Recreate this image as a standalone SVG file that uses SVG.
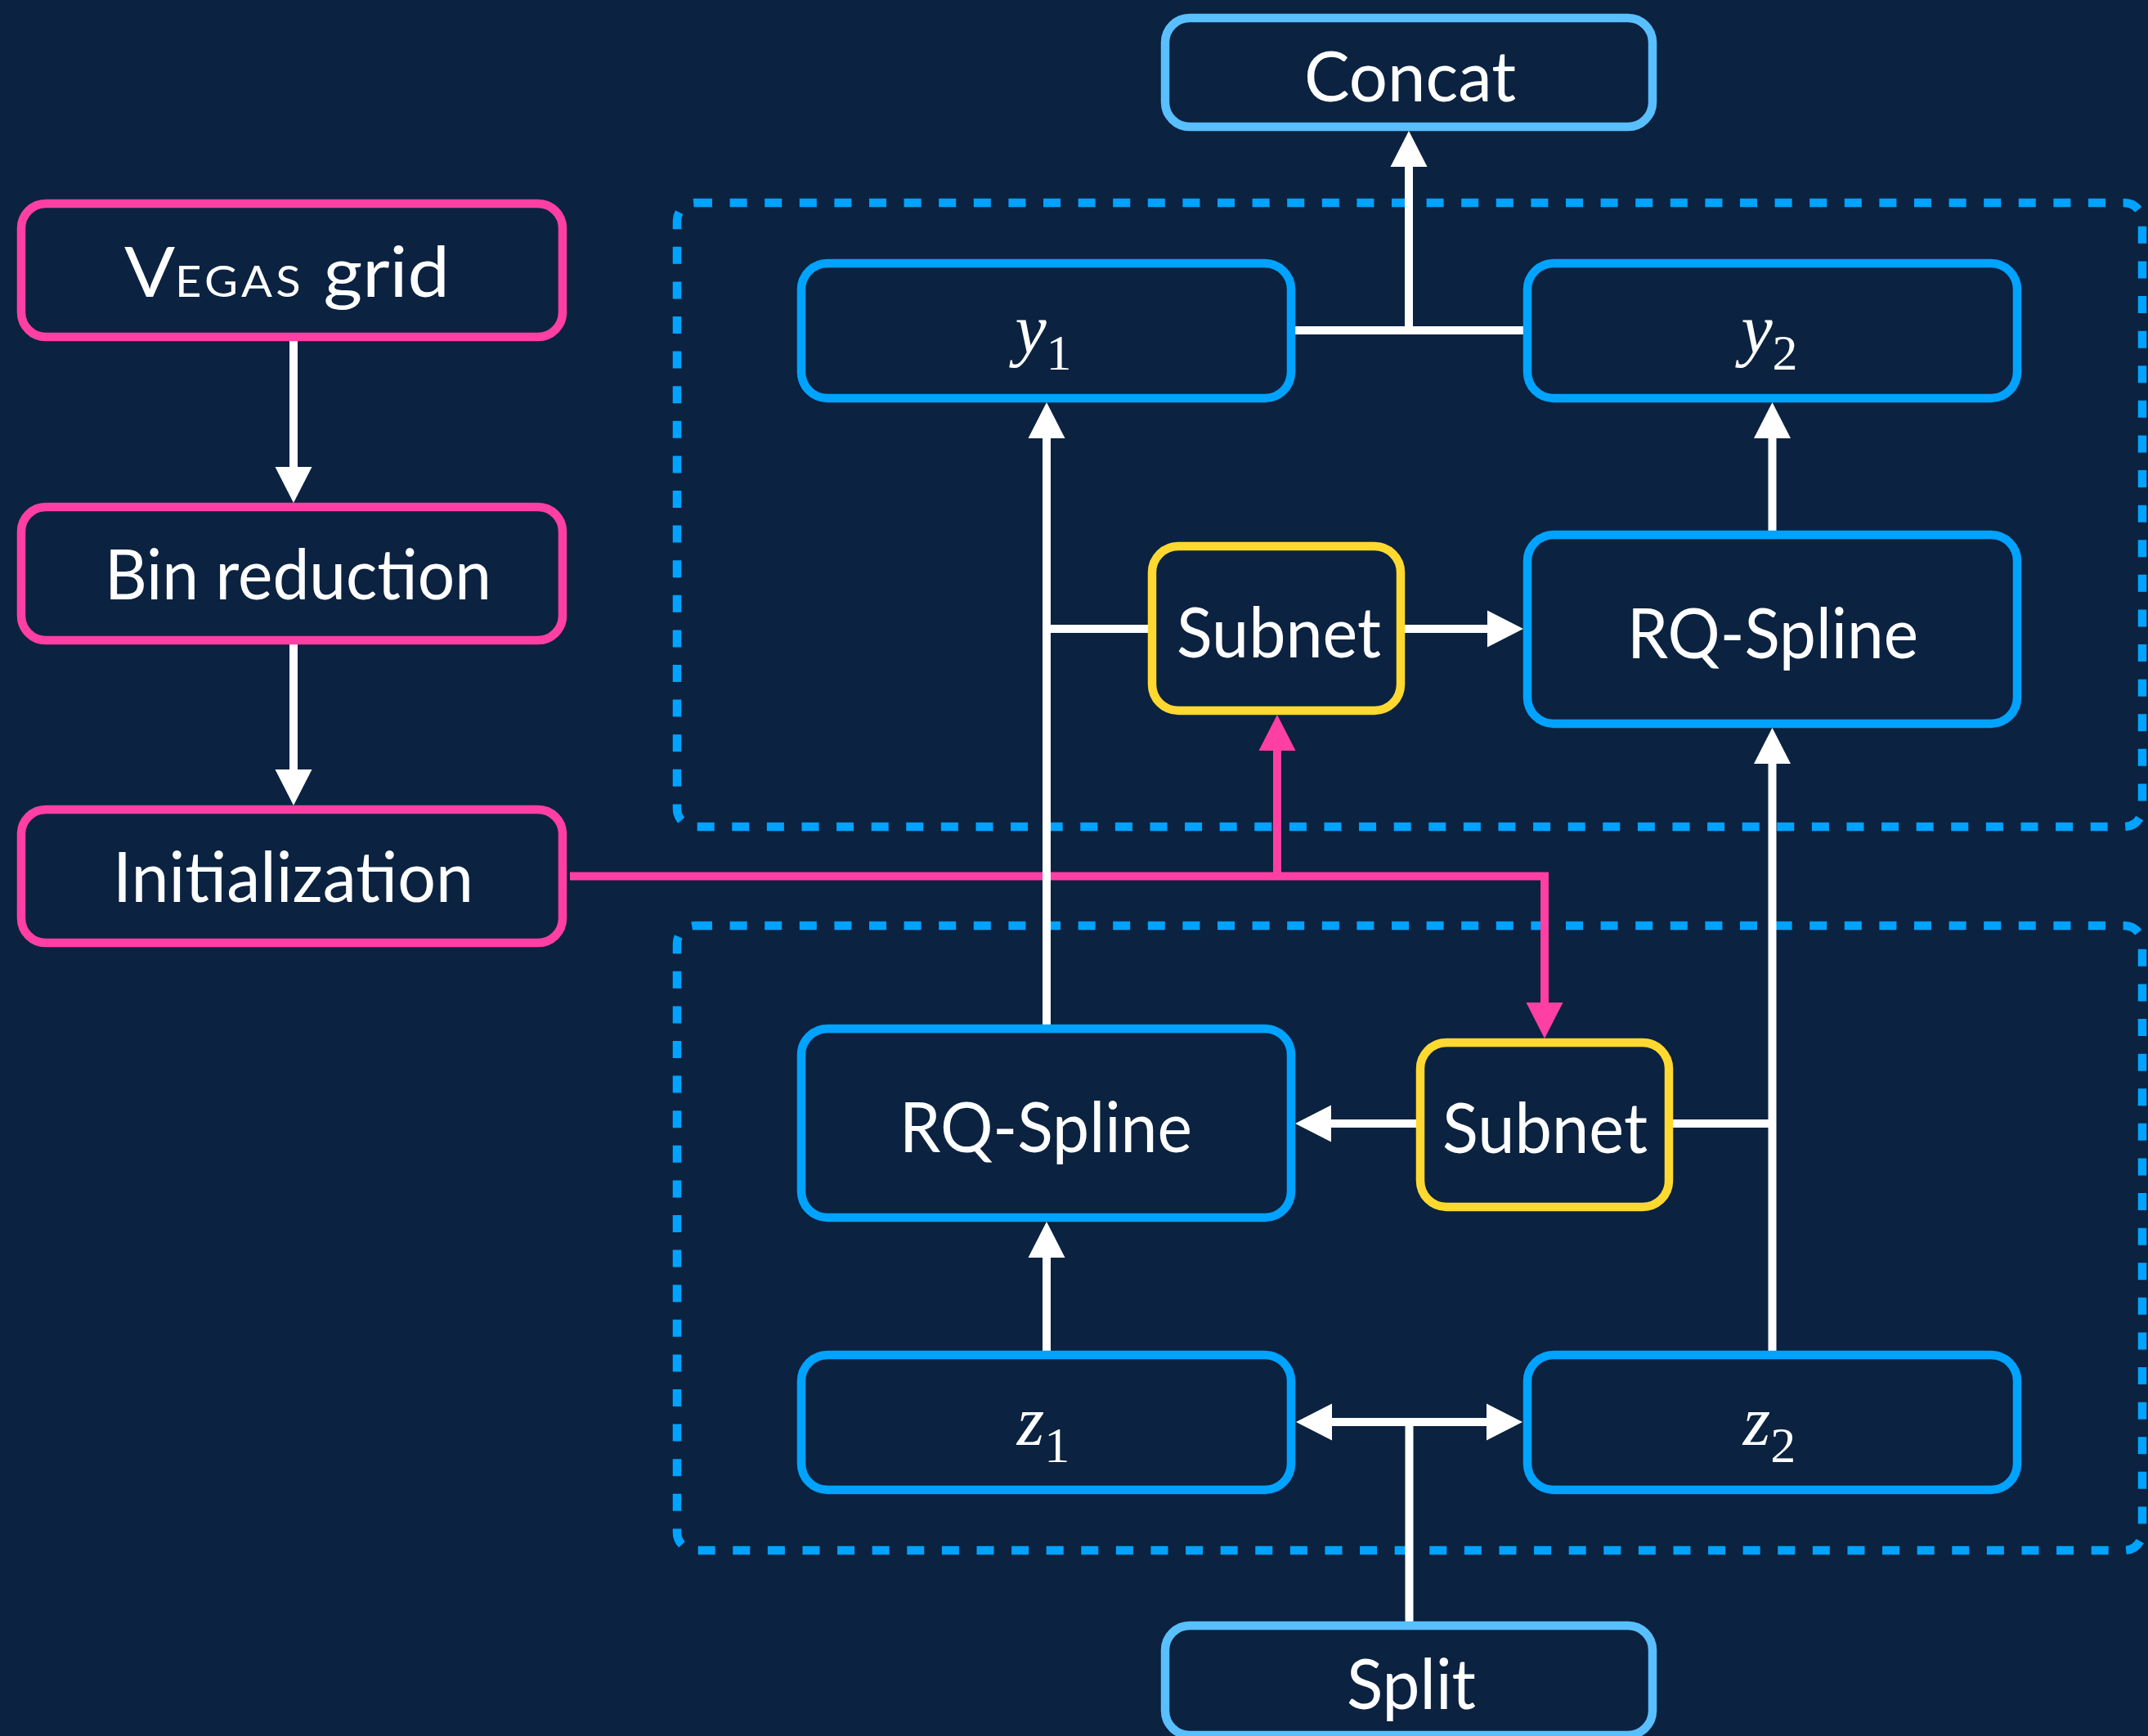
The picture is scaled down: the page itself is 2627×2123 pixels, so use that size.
<svg xmlns="http://www.w3.org/2000/svg" width="2627" height="2123" viewBox="0 0 2627 2123">
  <style>
    .bg { fill: #0b2240; }
    .node { fill: #0b2240; stroke-width: 10.5; }
    .pink { stroke: #ff3fa4; }
    .blue { stroke: #00a3ff; }
    .light { stroke: #59bfff; }
    .yellow { stroke: #ffd930; }
    .stage { fill: none; stroke: #00a3ff; stroke-width: 10.5; stroke-dasharray: 21 21.6; }
    .lbl { font-family: Lato, "Open Sans", "Liberation Sans", sans-serif; font-size: 85px; fill: #ffffff; text-anchor: middle; }
    .math { font-family: "Liberation Serif", "DejaVu Serif", serif; fill: #ffffff; text-anchor: middle; font-size: 86px; }
    .math .v { font-style: italic; }
    .math .sub { font-size: 62px; font-style: normal; }
    .wire { fill: none; stroke: #ffffff; stroke-width: 10; }
    .wire-pink { fill: none; stroke: #ff3fa4; stroke-width: 10; }
  </style>
  <defs>
    <marker id="arrow" markerUnits="userSpaceOnUse" markerWidth="44" markerHeight="45" viewBox="0 -22.5 44 45" refX="0" refY="0" orient="auto" overflow="visible">
      <path d="M0,-22.5 L44,0 L0,22.5 Z" fill="#ffffff"/>
    </marker>
    <marker id="arrow-pink" markerUnits="userSpaceOnUse" markerWidth="44" markerHeight="45" viewBox="0 -22.5 44 45" refX="0" refY="0" orient="auto" overflow="visible">
      <path d="M0,-22.5 L44,0 L0,22.5 Z" fill="#ff3fa4"/>
    </marker>
  </defs>

  <rect class="bg" x="0" y="0" width="2627" height="2123"/>

  <!-- coupling stages -->
  <g id="stages">
    <rect class="stage" x="828" y="248" width="1792" height="763" rx="22"/>
    <rect class="stage" x="828" y="1132" width="1792" height="764" rx="22"/>
  </g>

  <!-- connectors -->
  <g id="connectors">
    <path class="wire" d="M359,417 V571" marker-end="url(#arrow)"/>
    <path class="wire" d="M359,788 V941" marker-end="url(#arrow)"/>

    <path class="wire-pink" d="M697,1071.5 H1889 V1226" marker-end="url(#arrow-pink)"/>
    <path class="wire-pink" d="M1562,1071.5 V918" marker-end="url(#arrow-pink)"/>

    <path class="wire" d="M1584,404 H1863"/>
    <path class="wire" d="M1723,404 V204" marker-end="url(#arrow)"/>

    <path class="wire" d="M1280,1253 V536" marker-end="url(#arrow)"/>
    <path class="wire" d="M1280,769 H1404"/>
    <path class="wire" d="M1718,769 H1819" marker-end="url(#arrow)"/>
    <path class="wire" d="M2167.5,649 V536" marker-end="url(#arrow)"/>

    <path class="wire" d="M2167.5,1652 V934" marker-end="url(#arrow)"/>
    <path class="wire" d="M2046,1374 H2167.5"/>
    <path class="wire" d="M1732,1374 H1628" marker-end="url(#arrow)"/>
    <path class="wire" d="M1280,1652 V1538" marker-end="url(#arrow)"/>

    <path class="wire" d="M1723.5,1983 V1734"/>
    <path class="wire" d="M1723.5,1739 H1629" marker-end="url(#arrow)"/>
    <path class="wire" d="M1723.5,1739 H1818" marker-end="url(#arrow)"/>
  </g>

  <!-- preprocessing chain -->
  <g id="vegas-grid">
    <rect class="node pink" x="26" y="249" width="662" height="163" rx="30"/>
    <text class="lbl" x="351" y="363" textLength="398" lengthAdjust="spacingAndGlyphs">V<tspan font-size="52" letter-spacing="4">EGAS</tspan> grid</text>
  </g>
  <g id="bin-reduction">
    <rect class="node pink" x="26" y="620" width="662" height="163" rx="30"/>
    <text class="lbl" x="364.5" y="733" textLength="473" lengthAdjust="spacingAndGlyphs">Bin reduction</text>
  </g>
  <g id="initialization">
    <rect class="node pink" x="26" y="990" width="662" height="163" rx="30"/>
    <text class="lbl" x="358.5" y="1103" textLength="441" lengthAdjust="spacingAndGlyphs">Initialization</text>
  </g>

  <!-- flow endpoints -->
  <g id="concat">
    <rect class="node light" x="1425" y="22" width="596" height="133" rx="30"/>
    <text class="lbl" x="1724.5" y="124" textLength="259" lengthAdjust="spacingAndGlyphs">Concat</text>
  </g>
  <g id="split">
    <rect class="node light" x="1425" y="1988" width="596" height="134" rx="30"/>
    <text class="lbl" x="1726" y="2090" textLength="158" lengthAdjust="spacingAndGlyphs">Split</text>
  </g>

  <!-- upper coupling block -->
  <g id="y1">
    <rect class="node blue" x="980" y="322" width="599" height="165" rx="32"/>
    <text class="math" x="1276" y="431"><tspan class="v">y</tspan><tspan class="sub" dy="21">1</tspan></text>
  </g>
  <g id="y2">
    <rect class="node blue" x="1868" y="322" width="599" height="165" rx="32"/>
    <text class="math" x="2164" y="431"><tspan class="v">y</tspan><tspan class="sub" dy="21">2</tspan></text>
  </g>
  <g id="subnet-upper">
    <rect class="node yellow" x="1409" y="668" width="304" height="201" rx="32"/>
    <text class="lbl" x="1564" y="804" textLength="250" lengthAdjust="spacingAndGlyphs">Subnet</text>
  </g>
  <g id="spline-upper">
    <rect class="node blue" x="1868" y="654" width="599" height="231" rx="32"/>
    <text class="lbl" x="2168" y="805" textLength="356" lengthAdjust="spacingAndGlyphs">RQ-Spline</text>
  </g>

  <!-- lower coupling block -->
  <g id="spline-lower">
    <rect class="node blue" x="980" y="1258" width="599" height="231" rx="32"/>
    <text class="lbl" x="1279" y="1409" textLength="358" lengthAdjust="spacingAndGlyphs">RQ-Spline</text>
  </g>
  <g id="subnet-lower">
    <rect class="node yellow" x="1737" y="1275" width="304" height="201" rx="32"/>
    <text class="lbl" x="1889.5" y="1410" textLength="251" lengthAdjust="spacingAndGlyphs">Subnet</text>
  </g>
  <g id="z1">
    <rect class="node blue" x="980" y="1657" width="599" height="165" rx="32"/>
    <text class="math" x="1276" y="1767"><tspan class="v">z</tspan><tspan class="sub" dy="21">1</tspan></text>
  </g>
  <g id="z2">
    <rect class="node blue" x="1868" y="1657" width="599" height="165" rx="32"/>
    <text class="math" x="2164" y="1767"><tspan class="v">z</tspan><tspan class="sub" dy="21">2</tspan></text>
  </g>
</svg>
